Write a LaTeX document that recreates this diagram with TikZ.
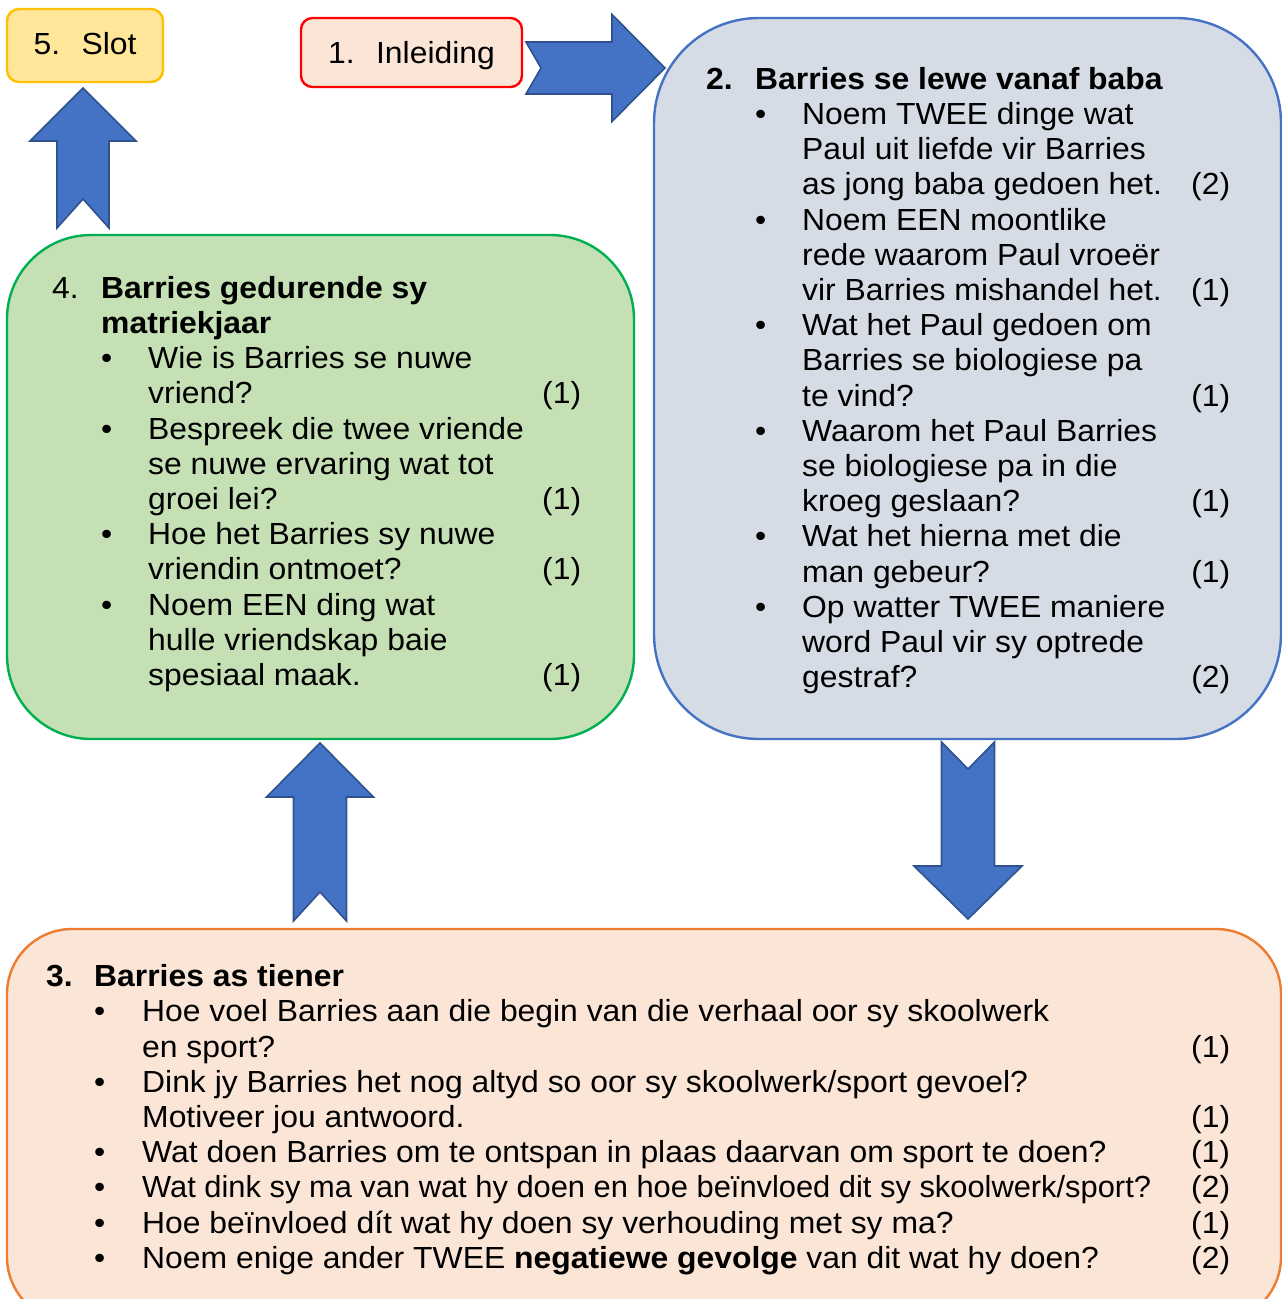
\documentclass[tikz,border=0pt]{standalone}
\usepackage{graphicx}
\usepackage{fontspec}
\setmainfont[FakeStretch=1.045]{Liberation Sans}
\definecolor{arrowblue}{HTML}{4472C4}
\definecolor{arrowedge}{HTML}{2F528F}
\definecolor{lewefill}{HTML}{D6DCE5}
\definecolor{matriekfill}{HTML}{C5E0B4}
\definecolor{matriekedge}{HTML}{00B050}
\definecolor{tienerfill}{HTML}{FBE5D6}
\definecolor{tieneredge}{HTML}{ED7D31}
\definecolor{slotfill}{HTML}{FFE699}
\definecolor{slotedge}{HTML}{FFC000}
\newlength\qlinew
\newcommand{\qline}[2]{\makebox[\qlinew][l]{#1\hfill#2}}
\tikzset{
	box/.style={draw, line width=2.4pt, outer sep=0pt, inner sep=0pt},
	qtext/.style={anchor=base west, inner sep=0pt, font=\fontsize{30.5}{35.2}\selectfont},
	blockarrow/.style={fill=arrowblue, draw=arrowedge, line width=1.6pt, line join=miter},
	pics/notcharrow/.style args={#1/#2/#3/#4/#5}{code={
		\draw[blockarrow] (0,#2) -- (#1-#4,#2) -- (#1-#4,#3) -- (#1,0) -- (#1-#4,-#3) -- (#1-#4,-#2) -- (0,-#2) -- (#5,0) -- cycle;
	}},
}
\begin{document}
\begin{tikzpicture}[x=1pt,y=1pt,yscale=-1,xscale=1]
			\useasboundingbox (0,0) rectangle (1282,1299);
			\node[box, draw=slotedge, fill=slotfill, minimum width=156pt, minimum height=73pt, rounded corners=12pt, text height=17pt, text depth=0pt, font=\fontsize{30.5}{35.2}\selectfont] (slot) at (85,45.5) {\makebox[48pt][l]{5.}Slot};
			\node[box, draw=red, fill=tienerfill, minimum width=221pt, minimum height=69pt, rounded corners=11.5pt, text height=21pt, text depth=0pt, font=\fontsize{30.5}{35.2}\selectfont] (inleiding) at (411.5,52.5) {\makebox[48pt][l]{1.}Inleiding};
			\node[box, draw=arrowblue, fill=lewefill, minimum width=627pt, minimum height=721pt, rounded corners=105pt] (lewe) at (967.5,378.5) {};
			\node[box, draw=matriekedge, fill=matriekfill, minimum width=627pt, minimum height=504pt, rounded corners=84pt] (matriek) at (320.5,487) {};
			\node[box, draw=tieneredge, fill=tienerfill, minimum width=1274pt, minimum height=393pt, rounded corners=65pt] (tiener) at (644,1125.5) {};
			\coordinate (a12) at (526,68);
			\coordinate (a23) at (968,742);
			\coordinate (a34) at (320,921);
			\coordinate (a45) at (83,228);
			\pic at (a12) {notcharrow=139/26/53.5/53/15};
			\pic[rotate=-90] at (a23) {notcharrow=177/26.5/54/53/27};
			\pic[rotate=90] at (a34) {notcharrow=178/26.5/53.5/54/29};
			\pic[rotate=90] at (a45) {notcharrow=140/26/53/53/29};
			\node[qtext] (lewe-text) at (706,89.3) {\setlength\qlinew{428pt}%
				\begin{tabular}[t]{@{}p{49pt}@{}p{47pt}@{}l@{}}
				\textbf{2.} & \multicolumn{2}{@{}l@{}}{\textbf{Barries se lewe vanaf baba}}\\
				& \textbullet & Noem TWEE dinge wat\\
				& & Paul uit liefde vir Barries\\
				& & \qline{as jong baba gedoen het.}{(2)}\\
				& \textbullet & Noem EEN moontlike\\
				& & rede waarom Paul vroeër\\
				& & \qline{vir Barries mishandel het.}{(1)}\\
				& \textbullet & Wat het Paul gedoen om\\
				& & Barries se biologiese pa\\
				& & \qline{te vind?}{(1)}\\
				& \textbullet & Waarom het Paul Barries\\
				& & se biologiese pa in die\\
				& & \qline{kroeg geslaan?}{(1)}\\
				& \textbullet & Wat het hierna met die\\
				& & \qline{man gebeur?}{(1)}\\
				& \textbullet & Op watter TWEE maniere\\
				& & word Paul vir sy optrede\\
				& & \qline{gestraf?}{(2)}\\
				\end{tabular}};
			\node[qtext] (matriek-text) at (52,298.3) {\setlength\qlinew{433pt}%
				\begin{tabular}[t]{@{}p{49pt}@{}p{47pt}@{}l@{}}
				4. & \multicolumn{2}{@{}l@{}}{\textbf{Barries gedurende sy}}\\
				& \multicolumn{2}{@{}l@{}}{\textbf{matriekjaar}}\\
				& \textbullet & Wie is Barries se nuwe\\
				& & \qline{vriend?}{(1)}\\
				& \textbullet & Bespreek die twee vriende\\
				& & se nuwe ervaring wat tot\\
				& & \qline{groei lei?}{(1)}\\
				& \textbullet & Hoe het Barries sy nuwe\\
				& & \qline{vriendin ontmoet?}{(1)}\\
				& \textbullet & Noem EEN ding wat\\
				& & hulle vriendskap baie\\
				& & \qline{spesiaal maak.}{(1)}\\
				\end{tabular}};
			\node[qtext] (tiener-text) at (46,986.7) {\setlength\qlinew{1088pt}%
				\begin{tabular}[t]{@{}p{48pt}@{}p{48pt}@{}l@{}}
				\textbf{3.} & \multicolumn{2}{@{}l@{}}{\textbf{Barries as tiener}}\\
				& \textbullet & Hoe voel Barries aan die begin van die verhaal oor sy skoolwerk\\
				& & \qline{en sport?}{(1)}\\
				& \textbullet & Dink jy Barries het nog altyd so oor sy skoolwerk/sport gevoel?\\
				& & \qline{Motiveer jou antwoord.}{(1)}\\
				& \textbullet & \qline{Wat doen Barries om te ontspan in plaas daarvan om sport te doen?}{(1)}\\
				& \textbullet & \qline{\scalebox{0.968}[1]{Wat dink sy ma van wat hy doen en hoe beïnvloed dit sy skoolwerk/sport?}}{(2)}\\
				& \textbullet & \qline{Hoe beïnvloed dít wat hy doen sy verhouding met sy ma?}{(1)}\\
				& \textbullet & \qline{Noem enige ander TWEE \textbf{negatiewe gevolge} van dit wat hy doen?}{(2)}\\
				\end{tabular}};
			\end{tikzpicture}
\end{document}
